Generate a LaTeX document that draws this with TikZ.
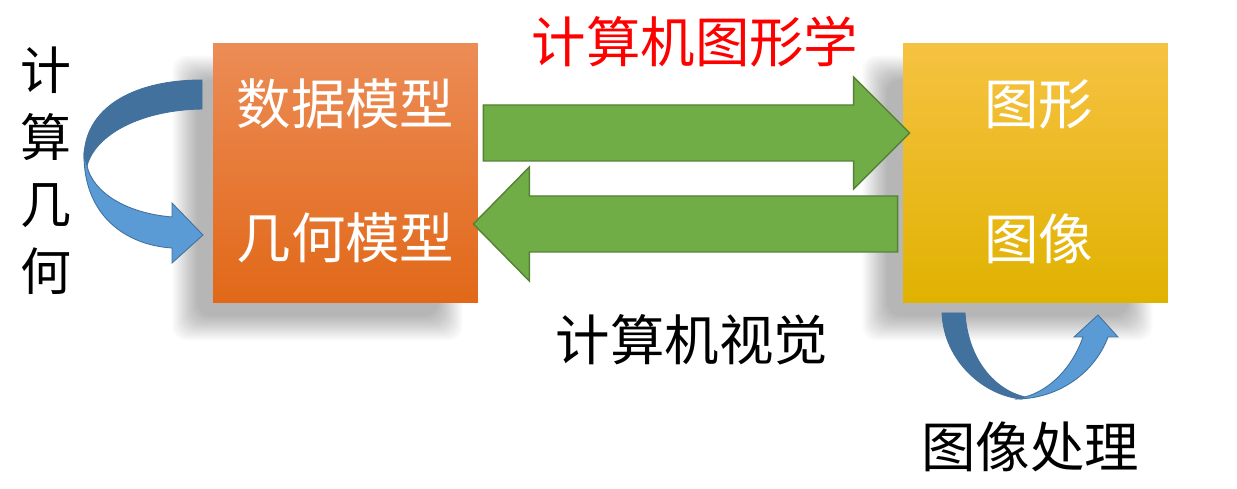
\documentclass[tikz,border=0pt]{standalone}
\usepackage{fontspec}
\setmainfont{Noto Sans CJK SC}
\usetikzlibrary{positioning,calc}
\definecolor{orangetop}{RGB}{236,140,86}
\definecolor{orangemid}{RGB}{237,124,49}
\definecolor{orangebot}{RGB}{225,104,24}
\definecolor{goldtop}{RGB}{246,194,66}
\definecolor{goldmid}{RGB}{246,192,0}
\definecolor{goldbot}{RGB}{224,178,0}
\definecolor{arrgreen}{RGB}{112,173,71}
\definecolor{arrgreenline}{RGB}{84,130,53}
\definecolor{bluedark}{RGB}{65,113,156}
\definecolor{bluelight}{RGB}{91,155,213}
\tikzset{panel/.style={minimum width=5.3cm, minimum height=5.2cm, inner sep=0pt, draw=none}}
\tikzset{paneltext/.style={text=white, inner sep=0pt, font=\fontsize{31}{37}\selectfont}}
\tikzset{caption/.style={inner sep=0pt, font=\fontsize{31}{37}\selectfont}}
\tikzset{blockarr/.style={fill=arrgreen, draw=arrgreenline, line width=0.8pt, line join=miter}}
\tikzset{loopdark/.style={fill=bluedark, draw=bluedark, line width=0.5pt}}
\tikzset{looplight/.style={fill=bluelight, draw=bluedark, line width=0.5pt}}

\begin{document}
\begin{tikzpicture}[x=0.02cm, y=-0.02cm]
        \useasboundingbox[fill=white] (0,0) rectangle (1237,489);
        \node[panel] (model) at (345.5,173) {};
        \node[panel] (img) at (1035.5,173) {};

        % soft shadows
        \foreach \b in {model, img}
          \foreach \k in {0,...,12}
            \fill[black, opacity=0.025, rounded corners=8]
              ($(\b.north west)+(-40+2*\k,13+2*\k)$) rectangle ($(\b.south east)+(-16-2*\k,37-2*\k)$);

        \node[panel, top color=orangetop, middle color=orangemid, bottom color=orangebot] at (model) {};
        \node[panel, top color=goldtop, middle color=goldmid, bottom color=goldbot] at (img) {};

        % curved loops
        \filldraw[loopdark] (202,80) -- (202,109) .. controls (140,110) and (95,135) .. (87,166)
          -- (84,158) .. controls (84,110) and (130,80) .. (202,80) -- cycle;
        \filldraw[looplight] (84,155) .. controls (84,215) and (125,245) .. (172,248) -- (172,263)
          -- (203,235) -- (172,203) -- (172,217) .. controls (125,213) and (93,192) .. (87,166) -- cycle;
        \filldraw[loopdark] (942,313) -- (965,313) .. controls (968,360) and (995,390) .. (1025,397)
          -- (1022,399) .. controls (985,396) and (944,362) .. (942,313) -- cycle;
        \filldraw[looplight] (1018,399) .. controls (1060,398) and (1095,372) .. (1108,337) -- (1118,337)
          -- (1098,315) -- (1074,337) -- (1083,337) .. controls (1072,368) and (1050,390) .. (1025,397) -- cycle;

        % block arrows
        \coordinate (ra) at ($(model.east)+(5,-40)$);
        \coordinate (rb) at ($(img.west)+(7,-40)$);
        \filldraw[blockarr] ($(ra)+(0,-28)$) -- ($(rb)+(-56,-28)$) -- ($(rb)+(-56,-56)$) -- (rb)
          -- ($(rb)+(-56,56)$) -- ($(rb)+(-56,28)$) -- ($(ra)+(0,28)$) -- cycle;
        \coordinate (la) at ($(img.west)+(-5,51)$);
        \coordinate (lb) at ($(model.east)+(-5,51)$);
        \filldraw[blockarr] ($(la)+(0,-28)$) -- ($(lb)+(56,-28)$) -- ($(lb)+(56,-57)$) -- (lb)
          -- ($(lb)+(56,57)$) -- ($(lb)+(56,28)$) -- ($(la)+(0,28)$) -- cycle;

        \node[paneltext] (data) at ($(model.center)+(0,-69)$) {数据模型};
        \node[paneltext] (geom) at ($(model.center)+(0,65)$) {几何模型};
        \node[paneltext] (graph) at ($(img.center)+(3,-69)$) {图形};
        \node[paneltext] (pict) at ($(img.center)+(3,66)$) {图像};

        \node[caption, text=red] (cg) at (695,42) {计算机图形学};
        \node[caption] (cv) at (692,340) {计算机视觉};
        \node[caption] (ip) at (1030,447) {图像处理};
        \node[caption, align=center, font=\fontsize{29}{38.1}\selectfont] (cgeo) at (46,171) {计\\算\\几\\何};
    \end{tikzpicture}
\end{document}
